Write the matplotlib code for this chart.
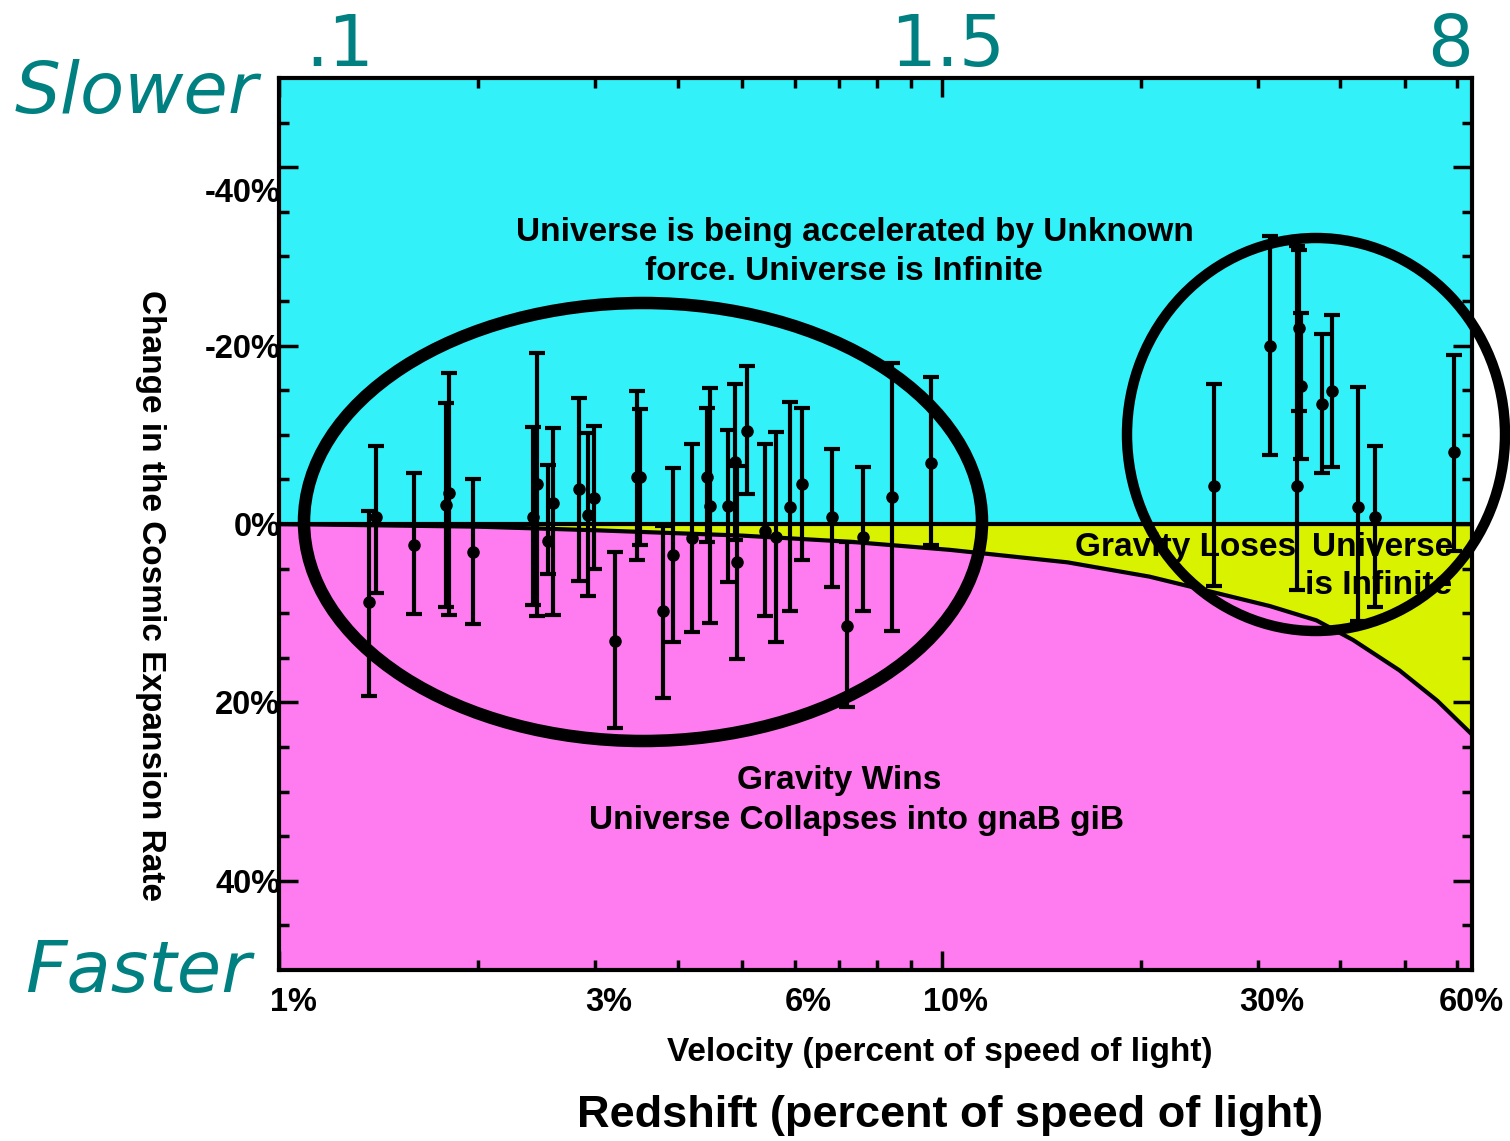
import matplotlib
matplotlib.use('Agg')
import matplotlib.pyplot as plt
from matplotlib.patches import Ellipse
from matplotlib.transforms import ScaledTranslation
import numpy as np

W, H = 1510, 1141

# ---- data (velocity in % of c, change in expansion rate in %) ----
velocity = [1.367, 1.401, 1.599, 1.787, 1.806, 1.963, 2.418, 2.452, 2.547, 2.592,
            2.837, 2.927, 2.989, 3.215, 3.471, 3.507, 3.798, 3.933, 4.202, 4.427,
            4.473, 4.762, 4.879, 4.913, 5.087, 5.415, 5.626, 5.906, 6.158, 6.834,
            7.200, 7.612, 8.420, 9.642, 25.78, 31.32, 34.41, 34.65, 34.89, 37.52,
            38.85, 42.54, 45.12, 59.38]
change = [8.80, -0.73, 2.30, -2.18, -3.42, 3.19, -0.84, -4.43, 1.96, -2.41,
          -3.87, -1.06, -2.97, 13.17, -5.32, -5.32, 9.80, 3.42, 1.62, -5.32,
          -2.07, -2.07, -7.00, 4.31, -10.48, 0.73, 1.51, -1.96, -4.43, -0.73,
          11.48, 1.51, -3.08, -6.89, -4.31, -20.0, -4.31, -22.02, -15.52, -13.50,
          -14.96, -1.85, -0.84, -8.12]
err_upper_end = [-1.51, -8.80, -5.77, -13.61, -16.97, -4.99, -10.92, -19.22, -6.67, -10.81,
                 -14.17, -10.25, -11.04, 3.19, -14.96, -12.94, 0.28, -6.33, -9.02, -13.05,
                 -15.29, -10.59, -15.74, -6.55, -17.76, -9.02, -10.36, -13.73, -13.05, -8.46,
                 2.07, -6.44, -18.10, -16.53, -15.74, -32.32, -31.20, -30.76, -23.70, -21.34,
                 -23.47, -15.41, -8.80, -18.99]
err_lower_end = [19.33, 7.68, 10.14, 9.36, 10.25, 11.26, 9.13, 10.36, 5.66, 10.25,
                 6.44, 8.12, 4.99, 22.91, 3.98, 2.30, 19.55, 13.28, 12.16, 2.07,
                 11.15, 6.55, 1.74, 15.18, -3.31, 10.36, 13.28, 9.80, 4.09, 7.11,
                 20.56, 9.80, 12.04, 2.41, 7.00, -7.79, 7.45, -12.72, -7.34, -5.77,
                 -6.44, 10.92, 9.36, 3.08]

curve_velocity = [1, 2, 3, 5, 7.3, 10.3, 15.5, 20.6, 31.3, 36.8, 41.8, 49.1, 56, 63.2]
curve_change = [0, 0.3, 0.7, 1.3, 2.0, 2.9, 4.3, 5.9, 9.2, 10.8, 13.0, 16.4, 19.8, 23.6]

x_major = [1, 10]
x_major_labels = ['1%', '10%']
x_minor = [2, 3, 4, 5, 6, 7, 8, 9, 20, 30, 40, 50, 60]
x_minor_labels = ['', '3%', '', '', '6%', '', '', '', '', '30%', '', '', '60%']
y_major = [-40, -20, 0, 20, 40]
y_major_labels = ['-40%', '-20%', '0%', '20%', '40%']
y_minor = [-45, -35, -30, -25, -15, -10, -5, 5, 10, 15, 25, 30, 35, 45]
redshift_labels = ['.1', '1.5', '8']

CYAN = '#33F1F9'
MAGENTA = '#FF7BF0'
YELLOW = '#D9F200'
TEAL = '#008080'
BF = 'Liberation Sans'


def fx(px):
    return px / W


def fy(py):
    return 1 - py / H


fig = plt.figure(figsize=(W / 100, H / 100), dpi=100)
fig.patch.set_facecolor('white')
ax = fig.add_axes([fx(279), fy(970), (1472 - 279) / W, (970 - 78) / H])
ax.set_xscale('log')
ax.set_xlim(1, 63.2)
ax.set_ylim(50, -50)
ax.set_facecolor(CYAN)

ax.fill_between(curve_velocity, 0, curve_change, color=YELLOW, lw=0, zorder=1)
ax.fill_between(curve_velocity, curve_change, 50, color=MAGENTA, lw=0, zorder=1)
ax.axhline(0, color='black', lw=3, zorder=2)
ax.plot(curve_velocity, curve_change, color='black', lw=3, zorder=2)

ch = np.array(change)
yerr = [ch - np.array(err_upper_end), np.array(err_lower_end) - ch]
ax.errorbar(velocity, change, yerr=yerr, fmt='o', color='black', ms=8,
            elinewidth=3, capsize=6, capthick=3, zorder=5)

for s in ax.spines.values():
    s.set_linewidth(3)

ax.set_xticks(x_major)
ax.set_xticklabels(x_major_labels)
ax.set_xticks(x_minor, minor=True)
ax.set_xticklabels(x_minor_labels, minor=True)
ax.set_yticks(y_major)
ax.set_yticklabels(y_major_labels)
ax.set_yticks(y_minor, minor=True)
ax.tick_params(which='both', direction='in', top=True, right=True, width=2.5, color='black')
ax.tick_params(which='major', length=14)
ax.tick_params(which='minor', length=7)
ax.tick_params(axis='x', which='both', pad=12)
ax.tick_params(axis='y', which='both', pad=-1)
for lab in ax.get_xticklabels() + ax.get_xticklabels(minor=True) + ax.get_yticklabels():
    lab.set_fontfamily(BF)
    lab.set_fontweight('bold')
    lab.set_fontsize(23.5)
offset = ScaledTranslation(14 / 100, 0, fig.dpi_scale_trans)
for lab in ax.get_xticklabels() + ax.get_xticklabels(minor=True):
    lab.set_transform(lab.get_transform() + offset)
ylabs = ax.get_yticklabels()
ylabs[0].set_transform(ylabs[0].get_transform() + ScaledTranslation(0, -23 / 100, fig.dpi_scale_trans))

tk = dict(fontfamily=BF, fontweight='bold', fontsize=24, color='black')
fig.text(fx(855), fy(232), 'Universe is being accelerated by Unknown', ha='center', va='center', **tk)
fig.text(fx(844), fy(271), 'force. Universe is Infinite', ha='center', va='center', **tk)
fig.text(fx(839), fy(781), 'Gravity Wins', ha='center', va='center', **tk)
fig.text(fx(857), fy(820), 'Universe Collapses into gnaB giB', ha='center', va='center', **tk)
fig.text(fx(1075), fy(547), 'Gravity Loses', ha='left', va='center', **tk)
fig.text(fx(1312), fy(547), 'Universe', ha='left', va='center', **tk)
fig.text(fx(1305), fy(586), 'is Infinite', ha='left', va='center', **tk)

fig.text(fx(150), fy(595), 'Change in the Cosmic Expansion Rate', rotation=270,
         ha='center', va='center', **tk)
fig.text(fx(940), fy(1052), 'Velocity (percent of speed of light)', ha='center', va='center', **tk)
fig.text(fx(950), fy(1115), 'Redshift (percent of speed of light)', ha='center', va='center',
         fontfamily=BF, fontweight='bold', fontsize=32.5, color='black')

teal = dict(fontfamily='DejaVu Sans', fontsize=52, color=TEAL)
fig.text(fx(15), fy(113), 'Slower', ha='left', va='baseline', style='italic', **teal)
fig.text(fx(25), fy(992), 'Faster', ha='left', va='baseline', style='italic', **teal)
for lab, px in zip(redshift_labels, [340, 948, 1450]):
    fig.text(fx(px), fy(66), lab, ha='center', va='baseline', **teal)

e1 = Ellipse((fx(643), fy(522)), 678 / W, 438 / H, transform=fig.transFigure,
             fill=False, lw=9, ec='black', zorder=10)
e2 = Ellipse((fx(1316), fy(434.5)), 378 / W, 393 / H, transform=fig.transFigure,
             fill=False, lw=7.5, ec='black', zorder=10)
fig.add_artist(e1)
fig.add_artist(e2)

fig.savefig('out.png', dpi=100)
